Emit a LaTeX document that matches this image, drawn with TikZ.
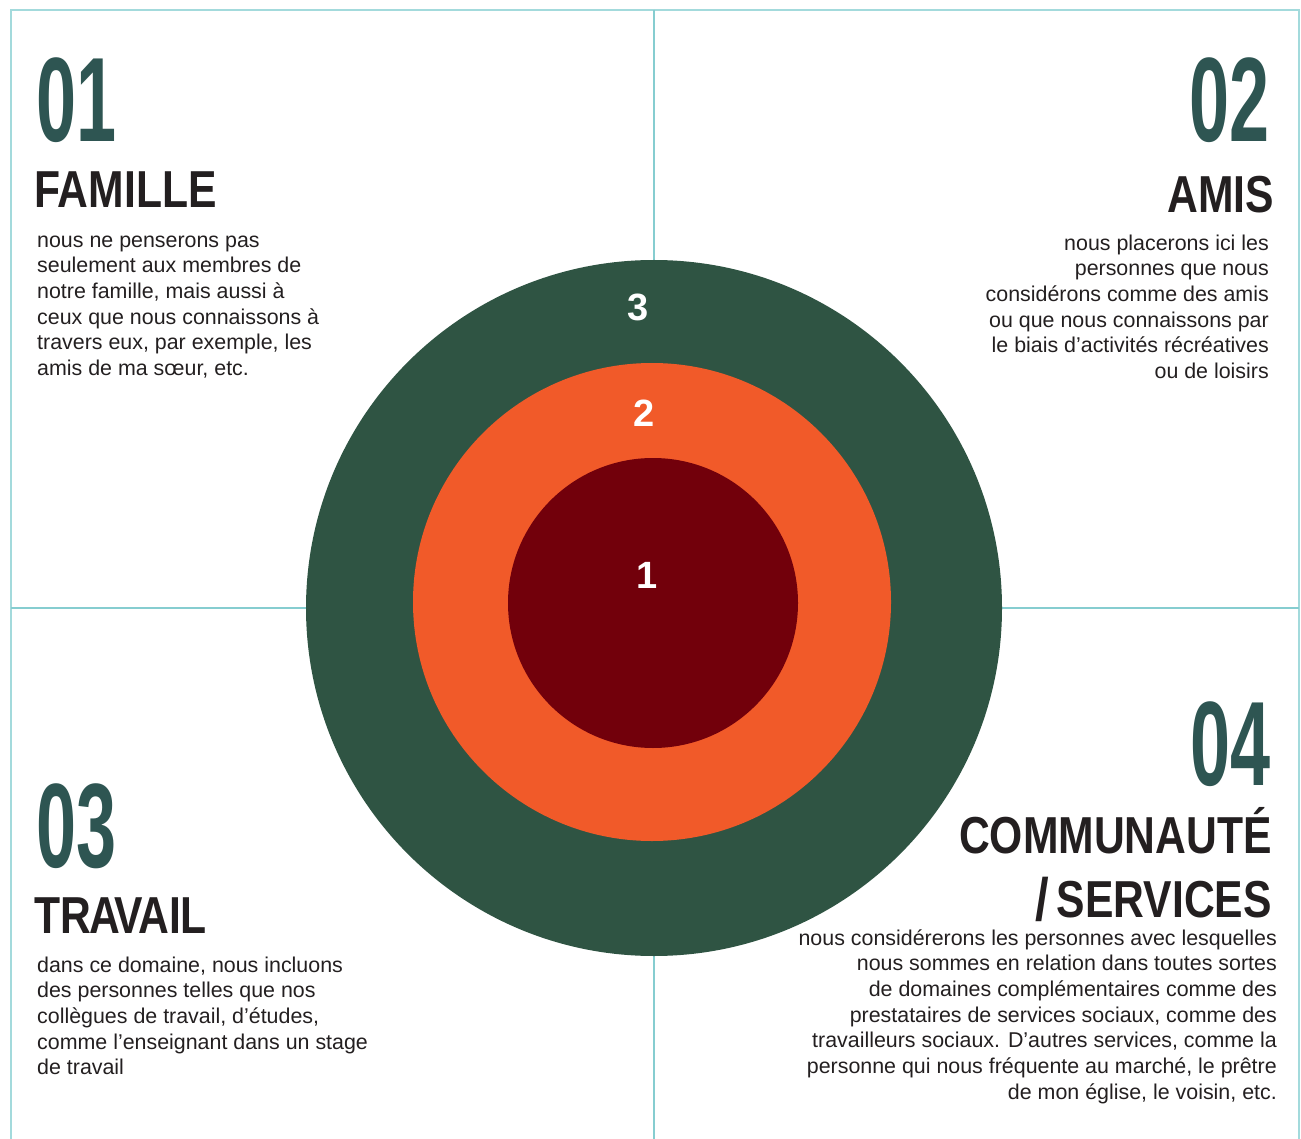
\documentclass[tikz,border=0pt]{standalone}
\usepackage{fontspec}
\setmainfont{Liberation Sans}
\newfontfamily\numfont[FakeStretch=0.6]{Liberation Sans}
\newfontfamily\titlefont[FakeStretch=0.82]{Liberation Sans}

\definecolor{gridline}{HTML}{A3DADC}
\definecolor{midline}{HTML}{86CDD0}
\definecolor{numteal}{HTML}{2E5552}
\definecolor{ringgreen}{HTML}{2F5443}
\definecolor{ringorange}{HTML}{F15A29}
\definecolor{ringred}{HTML}{72000B}
\definecolor{bodytext}{HTML}{231F20}

\tikzset{
	num/.style={font=\numfont\bfseries\fontsize{120}{120}\selectfont, text=numteal, inner sep=0pt},
	heading/.style={font=\titlefont\bfseries\fontsize{52}{60}\selectfont, text=bodytext, inner sep=0pt},
	body/.style={font=\fontsize{21.4}{25.7}\selectfont, text=bodytext, inner sep=0pt},
	ringlabel/.style={font=\bfseries\fontsize{38}{38}\selectfont, text=white, inner sep=0pt}
}

\begin{document}
\begin{tikzpicture}[x=1pt,y=-1pt]
	\useasboundingbox (0,0) rectangle (1301,1139);
	
	% Grid
	\draw[gridline, line width=2.5pt] (11,1139) -- (11,10) -- (1299,10) -- (1299,1139);
	\draw[midline, line width=2.5pt] (654,10) -- (654,1139);
	\draw[midline, line width=2.5pt] (11,608) -- (1299,608);
	
	% Rings
	\fill[ringgreen] (654,608) circle (348pt);
	\fill[ringorange] (652,602) circle (239pt);
	\fill[ringred] (653,603) circle (145pt);
	
	\node[ringlabel] (lbl3) at (638,307) {3};
	\node[ringlabel] (lbl2) at (644,413) {2};
	\node[ringlabel] (lbl1) at (647,575) {1};
	
	% 01 Famille
	\node[num, anchor=base west] (num1) at (36,142) {01};
	\node[heading, anchor=base west] (famille) at (34,208) {FAMILLE};
	\node[body, anchor=north west, align=left] (famtext) at (37,229) {\strut nous ne penserons pas\\
		seulement aux membres de\\
		notre famille, mais aussi à\\
		ceux que nous connaissons à\\
		travers eux, par exemple, les\\
		amis de ma sœur, etc.};
	
	% 02 Amis
	\node[num, anchor=base east] (num2) at (1270,142) {02};
	\node[heading, anchor=base east] (amis) at (1274,213) {AMIS};
	\node[body, anchor=north east, align=right] (amistext) at (1269,232) {\strut nous placerons ici les\\
		personnes que nous\\
		considérons comme des amis\\
		ou que nous connaissons par\\
		le biais d’activités récréatives\\
		ou de loisirs};
	
	% 03 Travail
	\node[num, anchor=base west] (num3) at (36,867) {03};
	\node[heading, anchor=base west] (travail) at (34,933) {TR\kern-2ptA\kern-5ptV\kern-5ptAIL};
	\node[body, anchor=north west, align=left] (travtext) at (37,954) {\strut dans ce domaine, nous incluons\\
		des personnes telles que nos\\
		collègues de travail, d’études,\\
		comme l’enseignant dans un stage\\
		de travail};
	
	% 04 Communaute
	\node[num, anchor=base east] (num4) at (1271,785) {04};
	\node[heading, anchor=base east] (commu) at (1272,853) {COMMUNAUTÉ};
	\node[heading, anchor=base east] (serv) at (1272,917) {\raisebox{-3pt}{\scalebox{1.15}{/}}\hspace{8pt}SERVICES};
	\node[body, anchor=north east, align=right] (commtext) at (1277,927) {\strut nous considérerons les personnes avec lesquelles\\
		nous sommes en relation dans toutes sortes\\
		de domaines complémentaires comme des\\
		prestataires de services sociaux, comme des\\
		travailleurs sociaux. D’autres services, comme la\\
		personne qui nous fréquente au marché, le prêtre\\
		de mon église, le voisin, etc.};
\end{tikzpicture}
\end{document}
